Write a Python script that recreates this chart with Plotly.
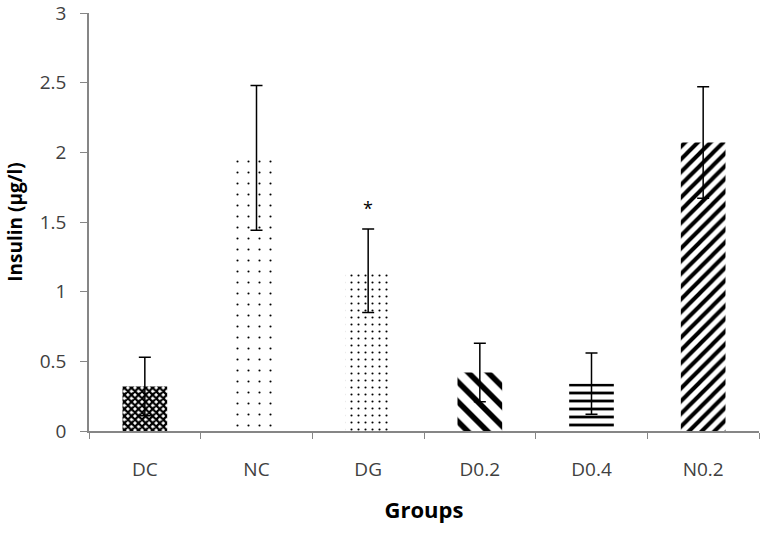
import plotly.graph_objects as go

groups = ["DC", "NC", "DG", "D0.2", "D0.4", "N0.2"]
insulin = [0.32, 1.96, 1.15, 0.42, 0.34, 2.07]
sem = [0.21, 0.52, 0.30, 0.21, 0.22, 0.40]

# fill pattern per group (shape, size, solidity)
patterns = [
    ("x", 5, 0.7),
    (".", 11, 0.03),
    (".", 7, 0.07),
    ("\\", 14, 0.4),
    ("-", 8, 0.35),
    ("/", 9, 0.45),
]

fig = go.Figure()
for g, v, e, (shape, size, sol) in zip(groups, insulin, sem, patterns):
    fig.add_trace(go.Bar(
        x=[g], y=[v],
        width=0.4,
        marker=dict(
            color="white",
            line=dict(width=0),
            pattern=dict(shape=shape, size=size, solidity=sol,
                         fgcolor="black", fgopacity=1, bgcolor="white",
                         fillmode="replace"),
        ),
        error_y=dict(type="data", array=[e], color="black", thickness=1.5, width=6),
        showlegend=False,
    ))

fig.add_annotation(x="DG", y=1.6, text="*", showarrow=False,
                   font=dict(size=18, color="black"))

axis_font = dict(family="Open Sans, Arial, sans-serif", size=19, color="#404040")
title_font = dict(family="Open Sans, Arial, sans-serif", size=19, color="black")
fig.update_layout(
    width=762, height=547,
    margin=dict(l=89, r=3, t=13, b=116),
    plot_bgcolor="white", paper_bgcolor="white",
    bargap=0.6,
    xaxis=dict(
        automargin=False,
        showline=True, linecolor="#868686", linewidth=1.5,
        ticks="outside", tickson="boundaries", ticklen=6, tickcolor="#868686",
        ticklabelstandoff=20,
        tickfont=axis_font,
        title=dict(text="<b>Groups</b>", font=dict(title_font, size=22), standoff=22),
    ),
    yaxis=dict(
        automargin=False,
        range=[0, 3], dtick=0.5,
        showline=True, linecolor="#868686", linewidth=1.5,
        ticks="outside", ticklen=7, tickcolor="#868686",
        ticklabelstandoff=10, ticklabeloverflow="allow",
        showgrid=False, zeroline=False,
        tickfont=axis_font,
        title=dict(text="<b>Insulin (µg/l)</b>", font=title_font, standoff=12),
    ),
)

fig.write_html("out.html", config={"displayModeBar": False},
               post_script="document.body.style.margin='0';")
